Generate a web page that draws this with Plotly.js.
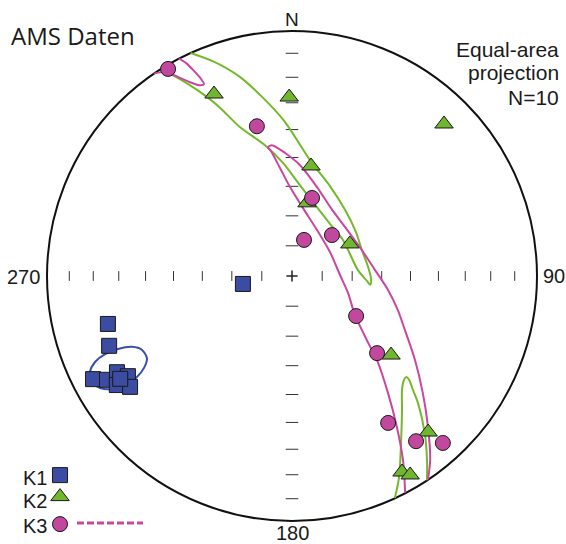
<!DOCTYPE html>
<html>
<head>
<meta charset="utf-8">
<script src="https://cdn.plot.ly/plotly-3.0.1.min.js"></script>
<style>
html,body{margin:0;padding:0;background:#ffffff;}
#chart{width:566px;height:544px;}
</style>
</head>
<body>
<div id="chart"></div>
<script>
// ---- AMS principal axes: declination (deg, clockwise from N) and inclination (deg, downward)
const k1Dec = [260.8, 255.4, 249.1, 242.6, 240.7, 241.2, 238.6, 238.1, 235.6, 239.1];
const k1Inc = [73.5, 23.4, 21.2, 9.4, 14.5, 19.6, 22.6, 16.9, 21.0, 19.4];
const k2Dec = [336.8, 359.1, 45.0, 9.8, 11.6, 61.0, 128.6, 138.9, 150.7, 149.3];
const k2Inc = [20.3, 27.8, 13.3, 52.4, 65.1, 68.0, 47.1, 16.6, 9.1, 6.2];
const k3Dec = [329.1, 346.8, 14.4, 18.4, 44.3, 122.0, 132.2, 146.8, 143.1, 137.9];
const k3Inc = [1.7, 37.3, 63.1, 77.4, 71.0, 64.8, 51.3, 29.1, 16.8, 9.0];

// ---- confidence-region outlines (equal-area x/y, primitive radius = 1)
const k1EllX = [-0.592,-0.604,-0.633,-0.673,-0.731,-0.783,-0.821,-0.825,-0.804,-0.763,-0.710,-0.653,-0.612,-0.592];
const k1EllY = [-0.335,-0.375,-0.412,-0.441,-0.461,-0.457,-0.432,-0.392,-0.351,-0.319,-0.298,-0.289,-0.302,-0.335];

const k2EllAX = [-0.414,-0.315,-0.213,-0.122,-0.032,0.078,0.155,0.217,0.261,0.285,0.311,0.323,0.319,0.306,0.269,0.208,0.155,0.102,0.032,-0.036,-0.110,-0.213,-0.293,-0.347,-0.437,-0.535];
const k2EllAY = [0.910,0.873,0.813,0.731,0.633,0.466,0.367,0.269,0.179,0.106,0.036,-0.016,-0.036,-0.020,0.024,0.147,0.213,0.281,0.371,0.461,0.534,0.608,0.686,0.731,0.791,0.845];
const k2EllBX = [0.420,0.437,0.445,0.449,0.449,0.457,0.466,0.478,0.494,0.514,0.542,0.551,0.551];
const k2EllBY = [-0.906,-0.821,-0.681,-0.547,-0.466,-0.424,-0.412,-0.424,-0.466,-0.518,-0.641,-0.751,-0.834];

const k3EllAX = [-0.462,-0.432,-0.400,-0.371,-0.359,-0.380,-0.416,-0.466,-0.518,-0.564];
const k3EllAY = [0.887,0.869,0.837,0.804,0.783,0.779,0.791,0.813,0.833,0.826];
const k3EllBX = [0.555,0.564,0.555,0.534,0.502,0.461,0.432,0.392,0.339,0.285,0.225,0.159,0.102,0.032,-0.028,-0.082,-0.098,-0.086,-0.049,-0.008,0.045,0.102,0.155,0.196,0.229,0.257,0.311,0.347,0.392,0.428,0.453,0.462];
const k3EllBY = [-0.830,-0.751,-0.616,-0.478,-0.343,-0.221,-0.139,-0.057,0.024,0.106,0.188,0.277,0.363,0.453,0.502,0.534,0.526,0.510,0.441,0.363,0.277,0.188,0.098,0.004,-0.070,-0.159,-0.273,-0.343,-0.478,-0.616,-0.751,-0.885];

// ---- net graduations
const tickInc = [10, 20, 30, 40, 50, 60, 70, 80];
const axisAz = [0, 90, 180, 270];
const dirLabels = ['N', '90', '180', '270'];
const seriesNames = ['K1', 'K2', 'K3'];

// ---- styles
const colK1 = '#3b4ca2', colK2 = '#70b62e', colK3 = '#c2489d';
const lineK1 = '#3550a8', lineK2 = '#74b92c', lineK3 = '#c9479f';

const RAD = Math.PI / 180;
function proj(dec, inc) {
  const r = Math.SQRT2 * Math.sin((90 - inc) / 2 * RAD);
  return [r * Math.sin(dec * RAD), r * Math.cos(dec * RAD)];
}
function projAll(decs, incs) {
  const xs = [], ys = [];
  decs.forEach((d, i) => { const p = proj(d, incs[i]); xs.push(p[0]); ys.push(p[1]); });
  return {x: xs, y: ys};
}

const W = 566, H = 544, CX = 292, CY = 276, R = 245;
const px = v => v / W;
const py = v => 1 - v / H;

const traces = [];
// graduation ticks
['ns', 'ew'].forEach(kind => {
  const xs = [], ys = [];
  axisAz.forEach(az => {
    const horiz = (az === 90 || az === 270);
    if ((kind === 'ns') !== horiz) return;
    tickInc.forEach(inc => { const p = proj(az, inc); xs.push(p[0]); ys.push(p[1]); });
  });
  traces.push({x: xs, y: ys, mode: 'markers', type: 'scatter', showlegend: false, hoverinfo: 'skip',
    marker: {symbol: kind === 'ns' ? 'line-ns' : 'line-ew', size: kind === 'ns' ? 7 : 9,
             line: {color: '#333', width: 1}}});
});
const c0 = proj(0, 90);
traces.push({x: [c0[0]], y: [c0[1]], mode: 'markers', type: 'scatter', showlegend: false, hoverinfo: 'skip',
  marker: {symbol: 'cross-thin', size: 8, line: {color: '#222', width: 1.5}}});

// confidence outlines
function outline(xs, ys, color) {
  return {x: xs, y: ys, mode: 'lines', type: 'scatter', showlegend: false, hoverinfo: 'skip',
    line: {color: color, width: 2, shape: 'spline', smoothing: 0.8}};
}
traces.push(outline(k1EllX, k1EllY, lineK1));
traces.push(outline(k2EllAX, k2EllAY, lineK2));
traces.push(outline(k2EllBX, k2EllBY, lineK2));
traces.push(outline(k3EllAX, k3EllAY, lineK3));
traces.push(outline(k3EllBX, k3EllBY, lineK3));

// principal axes
const p1 = projAll(k1Dec, k1Inc), p2 = projAll(k2Dec, k2Inc), p3 = projAll(k3Dec, k3Inc);
const mline = {color: '#1a1a1a', width: 1};
traces.push({x: p1.x, y: p1.y, mode: 'markers', type: 'scatter', name: '', legend: 'legend',
  marker: {symbol: 'square', size: 15, color: colK1, line: mline}});
traces.push({x: p2.x, y: p2.y, mode: 'markers', type: 'scatter', name: '', legend: 'legend2',
  marker: {symbol: 'triangle-up', size: 16, color: colK2, line: mline}});
traces.push({x: p3.x, y: p3.y, mode: 'markers', type: 'scatter', name: '', legend: 'legend3',
  marker: {symbol: 'circle', size: 15, color: colK3, line: mline}});

const arial = 'Liberation Sans, Arial, sans-serif';
function ann(text, x, y, xanchor, size, family) {
  return {text: text, x: px(x), y: py(y), xref: 'paper', yref: 'paper', xanchor: xanchor, yanchor: 'middle',
    showarrow: false, borderpad: 0, font: {size: size, family: family || arial, color: '#1a1a1a'}};
}
const annotations = [
  ann('AMS Daten', 10, 35, 'left', 24, 'Open Sans, sans-serif'),
  ann('Equal-area', 560, 49, 'right', 21),
  ann('projection', 560, 73, 'right', 21),
  ann('N=10', 560, 97, 'right', 21),
  ann(dirLabels[0], CX, 20, 'center', 19),
  ann(dirLabels[1], 566, CY, 'right', 20),
  ann(dirLabels[2], CX, 533, 'center', 20),
  ann(dirLabels[3], 6, CY + 1, 'left', 20),
  ann(seriesNames[0], 22, 478, 'left', 20),
  ann(seriesNames[1], 22, 501, 'left', 20),
  ann(seriesNames[2], 22, 526, 'left', 20)
];

function leg(yc) {
  return {x: px(40), y: py(yc), xanchor: 'left', yanchor: 'middle', bgcolor: 'rgba(0,0,0,0)',
    borderwidth: 0, font: {size: 14, family: arial}, itemwidth: 30};
}

const layout = {
  width: W, height: H,
  margin: {l: 0, r: 0, t: 0, b: 0, pad: 0},
  paper_bgcolor: '#ffffff', plot_bgcolor: '#ffffff',
  xaxis: {range: [-CX / R, (W - CX) / R], visible: false, fixedrange: true},
  yaxis: {range: [-(H - CY) / R, CY / R], visible: false, fixedrange: true},
  showlegend: true,
  legend: leg(475.5), legend2: leg(497), legend3: leg(524.5),
  shapes: [
    {type: 'circle', xref: 'x', yref: 'y', x0: -1, y0: -1, x1: 1, y1: 1, layer: 'below',
     line: {color: '#111', width: 2}},
    {type: 'line', xref: 'paper', yref: 'paper', x0: px(77), x1: px(143), y0: py(523), y1: py(523),
     line: {color: lineK3, width: 3, dash: '7px,3px'}}
  ],
  annotations: annotations
};

Plotly.newPlot('chart', traces, layout, {staticPlot: true, displayModeBar: false});
</script>
</body>
</html>
